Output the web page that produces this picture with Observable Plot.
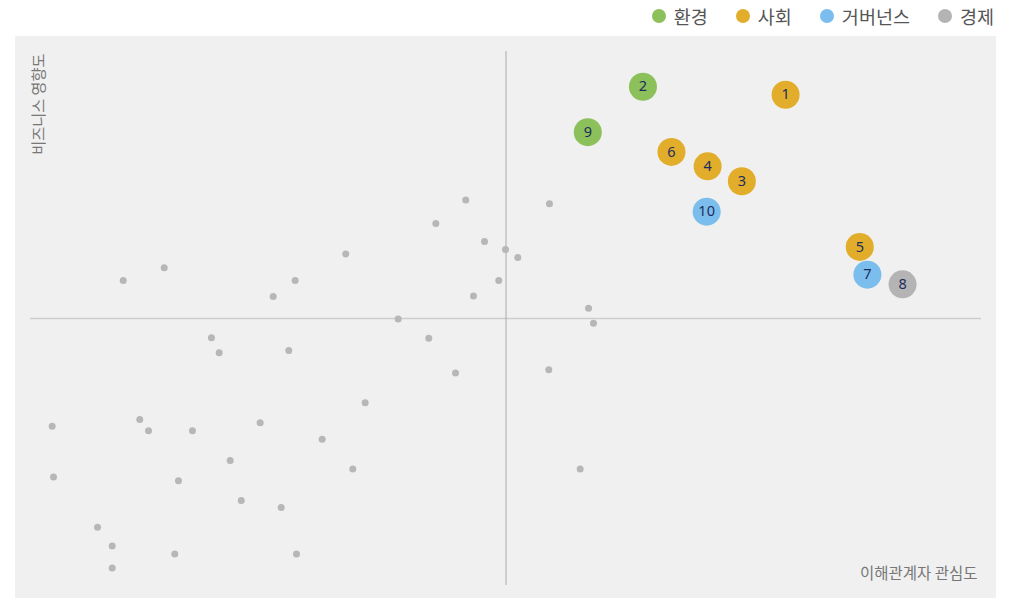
<!DOCTYPE html>
<html>
<head>
<meta charset="utf-8">
<script src="https://cdn.jsdelivr.net/npm/d3@7"></script>
<script src="https://cdn.jsdelivr.net/npm/@observablehq/plot@0.6"></script>
<style>
  html, body { margin: 0; padding: 0; background: #ffffff; }
  body { width: 1019px; height: 598px; position: relative; overflow: hidden; font-family: "Noto Sans CJK KR", "Noto Sans", sans-serif; }
  #legend { position: absolute; top: 0; left: 0; width: 1019px; height: 32px; display: flex; justify-content: flex-end; align-items: center; box-sizing: border-box; padding-right: 25px; }
  .item { display: flex; align-items: center; margin-left: 28px; font-size: 18.5px; color: #555; font-weight: 400; }
  .sw { width: 14px; height: 14px; border-radius: 50%; margin-right: 8px; }
  #chart { position: absolute; top: 36px; left: 15px; }
</style>
</head>
<body>
<div id="legend"></div>
<div id="chart"></div>
<script>
// Categories and colours
const categories = ["환경", "사회", "거버넌스", "경제"];
const categoryColors = ["#8cc05a", "#e1ad2b", "#7bbdec", "#b4b4b4"];

// Key issues (numbered bubbles)
const issueIds = [1, 2, 3, 4, 5, 6, 7, 8, 9, 10];
const issueCategory = ["사회", "환경", "사회", "사회", "사회", "사회", "거버넌스", "경제", "환경", "거버넌스"];
const issueInterest = [7.94, 6.44, 7.48, 7.12, 8.72, 6.74, 8.80, 9.17, 5.86, 7.11];   // 이해관계자 관심도
const issueImpact   = [9.19, 9.34, 7.57, 7.85, 6.34, 8.12, 5.82, 5.64, 8.49, 7.00];   // 비즈니스 영향도

// Other issues (small grey dots)
const otherInterest = [0.975, 1.406, 3.315, 2.783, 2.552, 1.903, 1.984, 2.716, 4.577, 5.457,
  4.262, 4.774, 4.995, 5.124, 4.924, 4.658, 5.868, 5.920, 3.866, 4.188,
  4.469, 5.450, 3.519, 3.067, 3.389, 5.780, 0.228, 1.149, 1.241, 1.703,
  2.415, 2.100, 0.242, 1.556, 2.216, 2.636, 0.705, 0.859, 0.859, 1.517, 2.797];
const otherImpact = [5.71, 5.95, 6.21, 5.71, 5.41, 4.64, 4.36, 4.40, 7.22, 7.15,
  6.78, 6.44, 6.29, 6.14, 5.71, 5.42, 5.19, 4.91, 4.99, 4.63,
  3.98, 4.04, 3.42, 2.74, 2.18, 2.18, 2.98, 3.11, 2.90, 2.90,
  3.05, 2.34, 2.03, 1.96, 1.59, 1.46, 1.09, 0.74, 0.33, 0.59, 0.59];

const midpoint = [5];
const axisLabelX = "이해관계자 관심도";
const axisLabelY = "비즈니스 영향도";

const issues = issueIds.map((id, i) => ({id, cat: issueCategory[i], x: issueInterest[i], y: issueImpact[i]}));
const others = otherInterest.map((x, i) => ({x, y: otherImpact[i]}));

// Legend
const legend = document.getElementById("legend");
categories.forEach((c, i) => {
  const it = document.createElement("div");
  it.className = "item";
  const sw = document.createElement("span");
  sw.className = "sw";
  sw.style.background = categoryColors[i];
  const t = document.createElement("span");
  t.textContent = c;
  it.appendChild(sw); it.appendChild(t);
  legend.appendChild(it);
});

const chart = Plot.plot({
  width: 981,
  height: 562,
  marginLeft: 15,
  marginRight: 15,
  marginTop: 15,
  marginBottom: 13,
  x: {domain: [0, 10], axis: null},
  y: {domain: [0, 10], axis: null},
  color: {domain: categories, range: categoryColors},
  style: {background: "#f0f0f0", fontFamily: "'Noto Sans CJK KR', 'Noto Sans', sans-serif"},
  marks: [
    Plot.ruleY(midpoint, {x1: 0, x2: 10, stroke: "#cdcdcd", strokeWidth: 1.6}),
    Plot.ruleX(midpoint, {y1: 0, y2: 10, stroke: "#aaaaaa", strokeWidth: 1}),
    Plot.dot(others, {x: "x", y: "y", r: 3.5, fill: "#b7b7b7"}),
    Plot.dot(issues, {x: "x", y: "y", r: 14, fill: "cat"}),
    Plot.text(issues, {x: "x", y: "y", text: "id", fill: "#1c2d5c", fontSize: 14.5, fontFamily: "'Noto Sans', sans-serif"}),
    Plot.text([axisLabelX], {frameAnchor: "bottom-right", textAnchor: "end", dx: -4, dy: -7, fontSize: 15.5, fill: "#777"}),
    Plot.text([axisLabelY], {frameAnchor: "top-left", textAnchor: "end", rotate: -90, dx: 3, dy: 2, fontSize: 15.2, fill: "#777"})
  ]
});
document.getElementById("chart").appendChild(chart);
</script>
</body>
</html>
